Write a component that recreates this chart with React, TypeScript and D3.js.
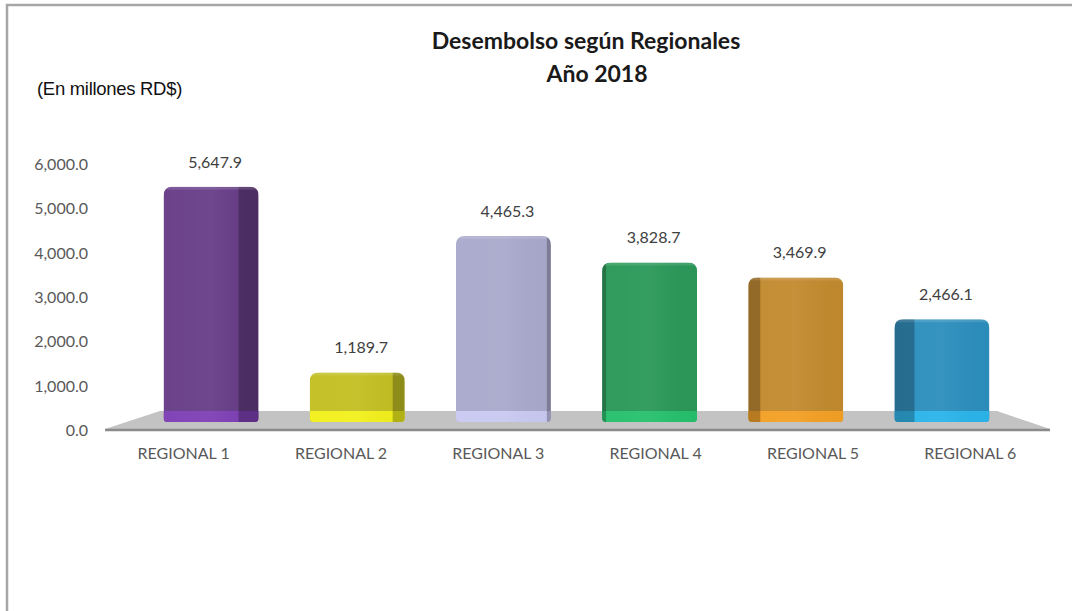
import React from "react";
import * as d3 from "d3";

const categories = ["REGIONAL 1", "REGIONAL 2", "REGIONAL 3", "REGIONAL 4", "REGIONAL 5", "REGIONAL 6"];
const values = [5647.9, 1189.7, 4465.3, 3828.7, 3469.9, 2466.1];
const frontColors = ["#673d87", "#c2bf22", "#a9a9cc", "#2a9858", "#c28a2e", "#2c8ebd"];
const baseColors = ["#7e3fb5", "#f2f01c", "#c9c9f2", "#25c06c", "#f3a024", "#2ab4ea"];
const yTicks = [0, 1000, 2000, 3000, 4000, 5000, 6000];
const titleLines = ["Desembolso según Regionales", "Año 2018"];
const unitLabel = "(En millones RD$)";

const W = 1072;
const H = 611;

export default function App() {
  const tickY = d3.scaleLinear().domain([0, 6000]).range([431, 165]);
  const barY = d3.scaleLinear().domain([0, 6000]).range([422, 172]);
  const barX = d3.scaleBand<string>().domain(categories).range([138, 1015]).paddingInner(0.35).paddingOuter(0.175);
  const labelX = d3.scaleBand<string>().domain(categories).range([105, 1049]);
  const fmt = d3.format(",.1f");
  const midX = 577;

  const floorBackY = 411;
  const floorFrontY = 429;
  const floorPath = `M${160},${floorBackY} L${997},${floorBackY} L${1050},${floorFrontY} L${105},${floorFrontY} Z`;

  const roundedTop = (x: number, y: number, w: number, h: number, r: number, rb: number) => {
    const p = d3.path();
    p.moveTo(x, y + r);
    p.quadraticCurveTo(x, y, x + r, y);
    p.lineTo(x + w - r, y);
    p.quadraticCurveTo(x + w, y, x + w, y + r);
    p.lineTo(x + w, y + h - rb);
    p.quadraticCurveTo(x + w, y + h, x + w - rb, y + h);
    p.lineTo(x + rb, y + h);
    p.quadraticCurveTo(x, y + h, x, y + h - rb);
    p.closePath();
    return p.toString();
  };

  return (
    <svg
      width={W}
      height={H}
      style={{ position: "absolute", left: 0, top: 0, background: "#fff" }}
      fontFamily="Lato, 'Open Sans', sans-serif"
    >
      <defs>
        {categories.map((c, i) => (
          <clipPath id={`clip${i}`} key={c}>
            <path
              d={roundedTop(
                barX(c)!,
                barY(values[i]),
                barX.bandwidth(),
                barY(0) - barY(values[i]),
                9,
                4
              )}
            />
          </clipPath>
        ))}
        <linearGradient id="sheen" x1="0" x2="1" y1="0" y2="0">
          <stop offset="0" stopColor="#fff" stopOpacity="0.03" />
          <stop offset="0.5" stopColor="#fff" stopOpacity="0.05" />
          <stop offset="1" stopColor="#000" stopOpacity="0.02" />
        </linearGradient>
      </defs>

      {/* frame */}
      <path d={`M7,${H} L7,5 L${W},5`} fill="none" stroke="#a6a6a6" strokeWidth={2.5} />

      {/* title */}
      <text x={586} y={49} textAnchor="middle" fontSize={23} fontWeight={700} fill="#1a1a1a">
        {titleLines[0]}
      </text>
      <text x={597} y={82} textAnchor="middle" fontSize={23} fontWeight={700} fill="#1a1a1a">
        {titleLines[1]}
      </text>

      <text x={37} y={95} fontSize={18.5} fontFamily="'Liberation Sans', Arial, sans-serif" fill="#111" letterSpacing={-0.3}>
        {unitLabel}
      </text>

      {/* y tick labels */}
      {yTicks.map((t) => (
        <text key={t} x={88} y={tickY(t) + 5} textAnchor="end" fontSize={16} fill="#595959">
          {fmt(t)}
        </text>
      ))}

      {/* floor */}
      <path d={floorPath} fill="#c3c3c3" />
      <line x1={105} x2={1050} y1={floorFrontY + 1} y2={floorFrontY + 1} stroke="#8a8a8a" strokeWidth={2.5} />

      {/* bars */}
      {categories.map((c, i) => {
        const x = barX(c)!;
        const w = barX.bandwidth();
        const cx = x + w / 2;
        const top = barY(values[i]);
        const bottom = barY(0);
        const depth = Math.abs(cx - midX) * 0.055;
        const sideRight = cx < midX;
        const sx = sideRight ? x + w - depth : x;
        return (
          <g key={c}>
            <g clipPath={`url(#clip${i})`}>
              <rect x={x} y={top} width={w} height={bottom - top} fill={frontColors[i]} />
              <rect x={x} y={bottom - 11} width={w} height={11} fill={baseColors[i]} />
              <rect x={x} y={top} width={w} height={bottom - top} fill="url(#sheen)" />
              <rect x={sx} y={top} width={depth} height={bottom - top} fill="#000" opacity={0.25} />
              <rect x={x} y={top} width={w} height={3} fill="#fff" opacity={0.12} />
            </g>
            <text x={cx + 4} y={barY(values[i]) - 19} textAnchor="middle" fontSize={16} fill="#404040">
              {fmt(values[i])}
            </text>
          </g>
        );
      })}

      {/* category labels */}
      {categories.map((c) => (
        <text
          key={c}
          x={labelX(c)! + labelX.bandwidth() / 2}
          y={459}
          textAnchor="middle"
          fontSize={16}
          fill="#595959"
        >
          {c}
        </text>
      ))}
    </svg>
  );
}
